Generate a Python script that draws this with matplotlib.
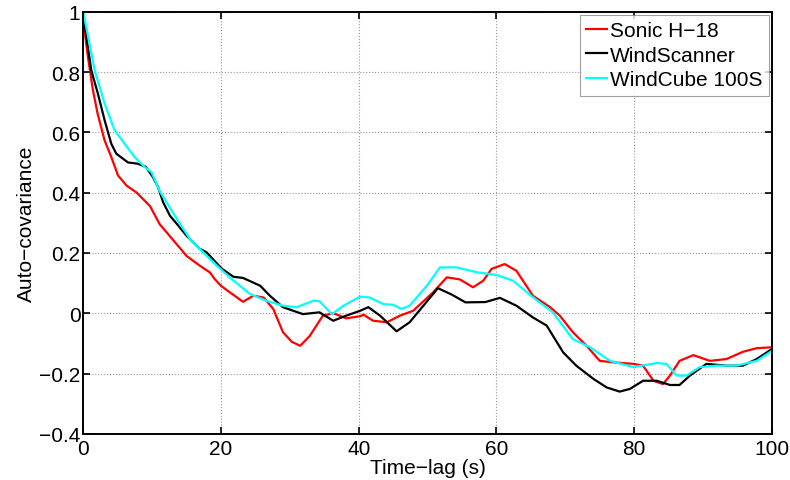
import numpy as np
import matplotlib.pyplot as plt

# Sonic H-18
t_sonic = [0, 0.68, 1.4, 2.1, 3.1, 4.07, 5.04, 6.3, 7.75, 9.7, 11.1, 12.6, 13.6, 15.0,
           16.9, 18.4, 19.1, 20.0, 21.3, 23.2, 24.7, 26.2, 27.6, 29.0, 30.3, 31.5, 32.9,
           34.8, 36.3, 38.2, 40.2, 40.7, 42.1, 44.1, 46.0, 47.9, 50.8, 52.8, 54.7, 56.6,
           58.1, 59.3, 61.2, 62.9, 65.3, 67.8, 69.2, 71.1, 73.1, 75.0, 77.0, 79.9, 81.3,
           82.8, 84.2, 85.2, 86.6, 88.6, 91.0, 93.4, 95.8, 97.8, 100]
y_sonic = [0.97, 0.85, 0.74, 0.66, 0.573, 0.518, 0.457, 0.423, 0.40, 0.355, 0.295, 0.255,
           0.228, 0.19, 0.158, 0.135, 0.113, 0.091, 0.069, 0.038, 0.058, 0.052, 0.014,
           -0.063, -0.095, -0.108, -0.075, -0.008, 0.0, -0.017, -0.01, -0.005, -0.025,
           -0.03, -0.008, 0.008, 0.069, 0.119, 0.112, 0.086, 0.108, 0.147, 0.163, 0.141,
           0.058, 0.02, -0.008, -0.063, -0.108, -0.158, -0.163, -0.168, -0.174, -0.224,
           -0.235, -0.207, -0.158, -0.139, -0.158, -0.152, -0.128, -0.116, -0.113]

# WindScanner
t_ws = [0, 1.16, 2.13, 3.1, 4.07, 4.8, 6.5, 7.9, 9.1, 10.1, 10.85, 11.6, 12.6, 13.6, 15.0,
        16.9, 17.9, 20.1, 21.8, 23.2, 25.7, 27.1, 29.0, 31.9, 34.3, 36.3, 38.2, 40.2, 41.4,
        43.1, 45.5, 47.4, 49.4, 51.5, 53.5, 55.5, 58.4, 60.5, 62.9, 65.3, 67.3, 69.7, 71.6,
        74.1, 76.0, 77.9, 79.4, 81.3, 83.3, 85.2, 86.6, 88.1, 90.5, 93.4, 95.8, 97.8, 100]
y_ws = [0.99, 0.806, 0.728, 0.64, 0.562, 0.529, 0.50, 0.496, 0.485, 0.452, 0.419, 0.368,
        0.323, 0.296, 0.257, 0.214, 0.202, 0.148, 0.121, 0.117, 0.091, 0.058, 0.02, -0.003,
        0.003, -0.025, -0.008, 0.008, 0.02, -0.008, -0.06, -0.03, 0.025, 0.083, 0.062, 0.036,
        0.037, 0.051, 0.025, -0.014, -0.041, -0.13, -0.174, -0.218, -0.246, -0.26, -0.251,
        -0.224, -0.224, -0.238, -0.238, -0.207, -0.168, -0.174, -0.174, -0.152, -0.119]

# WindCube 100S
t_wc = [0, 1.65, 3.1, 4.55, 6.0, 7.46, 8.9, 9.9, 11.1, 13.6, 15.5, 17.4, 19.4, 21.3, 24.2,
        26.6, 29.0, 31.0, 33.4, 34.3, 36.1, 37.8, 40.2, 41.6, 43.6, 45.0, 46.2, 47.4, 49.9,
        51.8, 54.2, 57.1, 60.0, 62.4, 65.3, 68.2, 71.1, 73.6, 76.5, 79.9, 83.3, 84.7, 86.2,
        87.6, 89.5, 91.9, 94.8, 97.8, 100]
y_wc = [1.0, 0.806, 0.695, 0.607, 0.562, 0.518, 0.485, 0.468, 0.405, 0.312, 0.246, 0.202,
        0.158, 0.118, 0.064, 0.041, 0.025, 0.02, 0.041, 0.04, -0.003, 0.025, 0.055, 0.052,
        0.03, 0.028, 0.014, 0.025, 0.091, 0.152, 0.152, 0.136, 0.127, 0.108, 0.053, 0.003,
        -0.086, -0.113, -0.158, -0.179, -0.165, -0.168, -0.207, -0.207, -0.179, -0.174,
        -0.174, -0.158, -0.125]

labels = ['Sonic H\u221218', 'WindScanner', 'WindCube 100S']
yticks = [-0.4, -0.2, 0, 0.2, 0.4, 0.6, 0.8, 1]
ytick_labels = ['\u22120.4', '\u22120.2', '0', '0.2', '0.4', '0.6', '0.8', '1']
xticks = [0, 20, 40, 60, 80, 100]

plt.rcParams['font.family'] = ['Liberation Sans', 'DejaVu Sans']

fig = plt.figure(figsize=(7.9, 4.81), dpi=100)
ax = fig.add_axes([0.1054, 0.096, 0.8716, 0.8776])

ax.plot(t_sonic, y_sonic, color='#ff0000', linewidth=1.6, label=labels[0])
ax.plot(t_ws, y_ws, color='black', linewidth=1.6, label=labels[1])
ax.plot(t_wc, y_wc, color='#00ffff', linewidth=1.6, label=labels[2])

ax.set_xlim(0, 100)
ax.set_ylim(-0.4, 1)
ax.set_xticks(xticks)
ax.set_xticklabels([str(v) for v in xticks])
ax.set_yticks(yticks)
ax.set_yticklabels(ytick_labels)
ax.tick_params(direction='in', top=True, right=True, length=5, width=1.2, labelsize=15)
ax.tick_params(axis='x', pad=4)
ax.tick_params(axis='y', pad=2)
ax.grid(True, linestyle=':', color='#999999', linewidth=0.8)
for s in ax.spines.values():
    s.set_linewidth(1.4)

ax.set_xlabel('Time\u2212lag (s)', fontsize=15, labelpad=0)
ax.set_ylabel('Auto\u2212covariance', fontsize=15, labelpad=2)

leg = ax.legend(loc='upper right', fontsize=15, fancybox=False, borderaxespad=0.15,
                handlelength=1.0, handletextpad=0.15, borderpad=0.3, labelspacing=0.27)
leg.get_frame().set_edgecolor('#888888')
leg.get_frame().set_linewidth(0.8)

fig.savefig('out.png', dpi=100)
